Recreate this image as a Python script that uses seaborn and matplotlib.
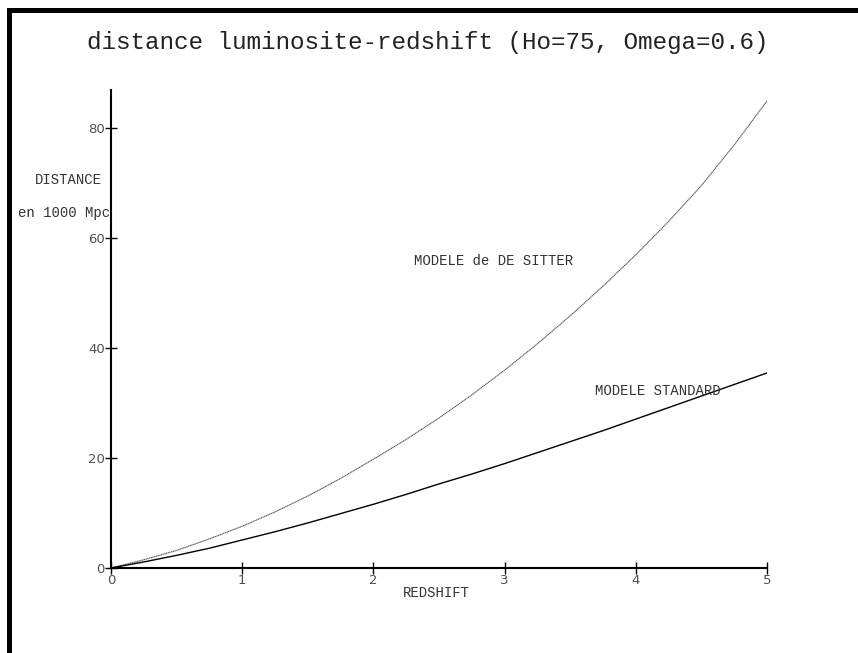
import numpy as np
import pandas as pd
import matplotlib
matplotlib.use("Agg")
import matplotlib.pyplot as plt
from matplotlib.patches import Rectangle
import seaborn as sns

# Data
redshift = [0.0, 0.25, 0.5, 0.75, 1.0, 1.25, 1.5, 1.75, 2.0, 2.25, 2.5,
            2.75, 3.0, 3.25, 3.5, 3.75, 4.0, 4.25, 4.5, 4.75, 5.0]
de_sitter = [0.0, 1.5, 3.2, 5.3, 7.6, 10.2, 13.1, 16.3, 19.8, 23.4, 27.3,
             31.5, 36.0, 40.8, 45.9, 51.3, 57.0, 63.1, 69.6, 77.0, 85.0]
standard = [0.0, 1.1, 2.3, 3.6, 5.1, 6.6, 8.2, 9.9, 11.6, 13.4, 15.3,
            17.1, 19.0, 21.0, 23.0, 25.0, 27.1, 29.2, 31.3, 33.4, 35.5]
x_ticks = [0, 1, 2, 3, 4, 5]
y_ticks = [0, 20, 40, 60, 80]

title = "distance luminosite-redshift (Ho=75, Omega=0.6)"
ylabel_1 = "DISTANCE"
ylabel_2 = "en 1000 Mpc"
xlabel = "REDSHIFT"
label_ds = "MODELE de DE SITTER"
label_std = "MODELE STANDARD"

sns.set_style("white")
plt.rcParams['font.family'] = ['DejaVu Sans']

W, H = 858, 653
fig = plt.figure(figsize=(W / 100, H / 100), dpi=100)
fig.patch.set_facecolor("white")

# axes placement in pixels
x0, x1 = 111, 767
y0, ytop = 568, 90
ax = fig.add_axes([x0 / W, 1 - y0 / H, (x1 - x0) / W, (y0 - ytop) / H])
ax.set_facecolor("white")

df = pd.DataFrame({"z": redshift, "ds": de_sitter, "std": standard})
sns.lineplot(data=df, x="z", y="ds", ax=ax, color="#555555", lw=0.8, linestyle=(0, (1.2, 0.4)))
sns.lineplot(data=df, x="z", y="std", ax=ax, color="black", lw=1.0)

ax.set_xlim(0, 5)
ax.set_ylim(0, 87)
ax.set_xticks(x_ticks)
ax.set_yticks(y_ticks)
ax.set_xticklabels([str(t) for t in x_ticks])
ax.set_yticklabels([str(t) for t in y_ticks])
ax.set_xlabel("")
ax.set_ylabel("")
for s in ["top", "right"]:
    ax.spines[s].set_visible(False)
for s in ["left", "bottom"]:
    ax.spines[s].set_color("black")
    ax.spines[s].set_linewidth(1.5)
ax.tick_params(axis="both", direction="inout", length=8, width=1.0, color="black",
               labelsize=9.5, labelcolor="#505050", pad=0.5)
ax.tick_params(axis="x", bottom=True)
ax.tick_params(axis="y", left=True)

mono = "Liberation Mono"
fig.text(428 / W, 1 - 42 / H, title, family=mono, fontsize=17.5, ha="center", va="center", color="#222222")
fig.text(68 / W, 1 - 180 / H, ylabel_1, family=mono, fontsize=10, ha="center", va="center", color="#333333")
fig.text(64 / W, 1 - 213 / H, ylabel_2, family=mono, fontsize=10, ha="center", va="center", color="#333333")
fig.text(436 / W, 1 - 593 / H, xlabel, family=mono, fontsize=10, ha="center", va="center", color="#333333")
fig.text(494 / W, 1 - 261 / H, label_ds, family=mono, fontsize=10, ha="center", va="center", color="#333333")
fig.text(658 / W, 1 - 391 / H, label_std, family=mono, fontsize=10, ha="center", va="center", color="#333333")

# window border (left and top thick bars)
fig.patches.append(Rectangle((7 / W, 0), 5 / W, 1 - 8 / H, transform=fig.transFigure,
                             facecolor="black", edgecolor="none", zorder=10))
fig.patches.append(Rectangle((7 / W, 1 - 13 / H), 1 - 7 / W, 5 / H, transform=fig.transFigure,
                             facecolor="black", edgecolor="none", zorder=10))

fig.savefig("out.png", dpi=100, facecolor="white")
